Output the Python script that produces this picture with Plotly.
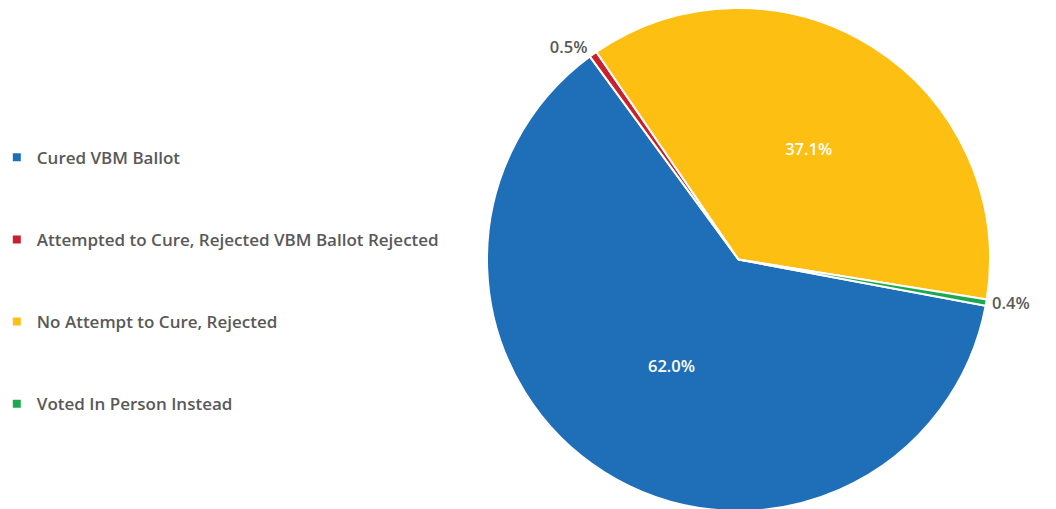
import plotly.graph_objects as go

labels = ["Cured VBM Ballot",
          "Attempted to Cure, Rejected VBM Ballot Rejected",
          "No Attempt to Cure, Rejected",
          "Voted In Person Instead"]
values = [62.0, 0.5, 37.1, 0.4]
colors = ["#1F6FB8", "#C8202F", "#FCBF12", "#1BA84E"]
text_pos = ["inside", "outside", "inside", "outside"]

FONT = "Open Sans"
GRAY = "#595959"

fig = go.Figure()
fig.add_trace(go.Pie(
    labels=labels, values=values, sort=False, direction="clockwise",
    rotation=100.6,
    marker=dict(colors=colors, line=dict(color="white", width=2)),
    textposition=text_pos,
    texttemplate="%{percent:.1%}",
    insidetextfont=dict(color="white", family=FONT, size=16.5, weight=600),
    outsidetextfont=dict(color=GRAY, family=FONT, size=16.5, weight=600),
    showlegend=False, hoverinfo="label+percent",
    domain=dict(x=[0.4536, 0.9299], y=[0.0118, 1.0]),
))

for lab, col in zip(labels, colors):
    fig.add_trace(go.Scatter(
        x=[None], y=[None], mode="markers", name=lab, legendgroup=lab,
        marker=dict(symbol="square", size=8, color=col),
    ))

fig.update_layout(
    width=1056, height=509,
    margin=dict(l=0, r=0, t=0, b=0, autoexpand=False),
    paper_bgcolor="white", plot_bgcolor="white",
    xaxis=dict(visible=False), yaxis=dict(visible=False),
    legend=dict(x=-0.0106, y=0.464, xanchor="left", yanchor="middle",
                tracegroupgap=57,
                font=dict(family=FONT, size=17, color=GRAY, weight=600)),
    font=dict(family=FONT),
)

fig.write_html("out.html")
